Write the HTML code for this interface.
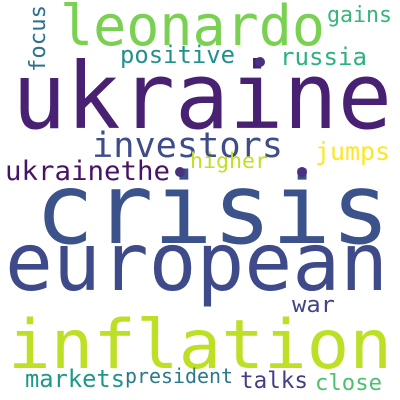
<!DOCTYPE html>
<html><head><meta charset="utf-8"><style>
html,body{margin:0;padding:0;background:#fff}
svg{display:block}
text{font-family:"DejaVu Sans Mono","Liberation Mono",monospace}
</style></head><body>
<svg width="400" height="400" viewBox="0 0 400 400">
<rect width="400" height="400" fill="#fff"/>
<g id="words"></g>
</svg>
<script>
const words = ["ukraine","crisis","european","inflation","leonardo","investors","ukrainethe","higher","jumps","positive","russia","gains","war","markets","president","talks","close","focus"];
const sizes = [92,98,80,68,56,35,27,21,25,24,24,22,22,24,20,23,22,22];
const xs = [12,35,5,8,60,92,5,190,315,120,280,327,292,25,125,240,315,45];
const ys = [128,243,290,368,45,157,180,168,160,63,65,22,312,387,383,388,390,72];
const widths = [380,355,383,384,265,191,165,78,75,115,87,65,43,100,108,68,67,67];
const colors = ["#482173","#3b528b","#3e4a89","#bddf26","#7ad151","#3e4c8a","#471365","#c2df23","#fde725","#21918c","#2db27d","#35b779","#414487","#1f978b","#2a788e","#433e85","#4ac16d","#2c728e"];
const dots = [[260,62],[180,172],[302,172]];
const g = document.getElementById('words');
const NS = 'http://www.w3.org/2000/svg';
words.forEach((w,i)=>{
  const t = document.createElementNS(NS,'text');
  
  
  t.setAttribute('font-size', sizes[i]);
  t.setAttribute('fill', colors[i]);
  t.setAttribute('textLength', widths[i]);
  t.setAttribute('lengthAdjust', 'spacingAndGlyphs');
  if (w === 'focus') {
    t.setAttribute('x', 0);
    t.setAttribute('y', 0);
    t.setAttribute('transform', 'translate(' + xs[i] + ',' + ys[i] + ') rotate(-90)');
  } else {
    t.setAttribute('x', xs[i]);
    t.setAttribute('y', ys[i]);
  }
  t.textContent = w;
  g.appendChild(t);
});
dots.forEach((d,i)=>{
  const c = document.createElementNS(NS,'circle');
  
  
  c.setAttribute('cx', d[0]);
  c.setAttribute('cy', d[1]);
  c.setAttribute('r', 5);
  c.setAttribute('fill', '#46327e');
  g.appendChild(c);
});
</script>
</body></html>
